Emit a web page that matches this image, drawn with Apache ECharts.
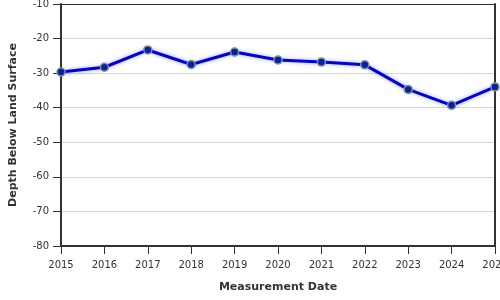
<!DOCTYPE html>
<html>
<head>
<meta charset="utf-8">
<script src="https://cdn.jsdelivr.net/npm/echarts@6/dist/echarts.min.js"></script>
<style>html,body{margin:0;padding:0;background:#fff;}#c{width:500px;height:300px;}</style>
</head>
<body>
<div id="c"></div>
<script>
var years = [2015, 2016, 2017, 2018, 2019, 2020, 2021, 2022, 2023, 2024, 2025];
var depths = [-29.7, -28.3, -23.3, -27.5, -23.9, -26.2, -26.8, -27.6, -34.7, -39.3, -34.0];
var yTicks = { min: -80, max: -10, step: 10 };
var xTitle = 'Measurement Date';
var yTitle = 'Depth Below Land Surface';

var font = 'DejaVu Sans';
var chart = echarts.init(document.getElementById('c'), null, { renderer: 'canvas' });
chart.setOption({
  animation: false,
  backgroundColor: '#fff',
  grid: { left: 61, right: 5, top: 4, bottom: 54, show: false, containLabel: false, outerBoundsMode: 'none' },
  xAxis: [{
    type: 'value', min: 2015, max: 2025, interval: 1,
    name: xTitle, nameLocation: 'middle', nameGap: 36,
    nameTextStyle: { fontFamily: font, fontSize: 11, fontWeight: 'bold', color: '#333' },
    axisLine: { show: true, onZero: false, lineStyle: { color: '#333', width: 2 } },
    axisTick: { show: true, length: 8, lineStyle: { color: '#333', width: 1 } },
    axisLabel: { margin: 14, fontFamily: font, fontSize: 10, color: '#333', hideOverlap: false, formatter: function (v) { return String(v); } },
    splitLine: { show: false }
  }, {
    type: 'value', min: 2015, max: 2025, position: 'top',
    axisLine: { show: true, onZero: false, lineStyle: { color: '#333', width: 1 } },
    axisTick: { show: false }, axisLabel: { show: false }, splitLine: { show: false }
  }],
  yAxis: [{
    type: 'value', min: yTicks.min, max: yTicks.max, interval: yTicks.step,
    name: yTitle, nameLocation: 'middle', nameGap: 42,
    nameTextStyle: { fontFamily: font, fontSize: 11, fontWeight: 'bold', color: '#333' },
    axisLine: { show: true, onZero: false, lineStyle: { color: '#333', width: 2 } },
    axisTick: { show: true, length: 8, lineStyle: { color: '#333', width: 1 } },
    axisLabel: { margin: 12, fontFamily: font, fontSize: 10, color: '#333' },
    splitLine: { show: true, lineStyle: { color: '#d6d6d6', width: 1 } }
  }, {
    type: 'value', min: yTicks.min, max: yTicks.max, position: 'right',
    axisLine: { show: true, onZero: false, lineStyle: { color: '#333', width: 2 } },
    axisTick: { show: false }, axisLabel: { show: false }, splitLine: { show: false }
  }],
  series: [{
    type: 'line',
    data: years.map(function (y, i) { return [y, depths[i]]; }),
    symbol: 'circle', symbolSize: 8,
    lineStyle: { color: '#0000e0', width: 3, shadowColor: 'rgba(60,60,255,0.45)', shadowBlur: 4 },
    itemStyle: { color: '#0a1fa8', borderColor: '#7d9688', borderWidth: 1.5 },
    z: 5
  }]
});
</script>
</body>
</html>
